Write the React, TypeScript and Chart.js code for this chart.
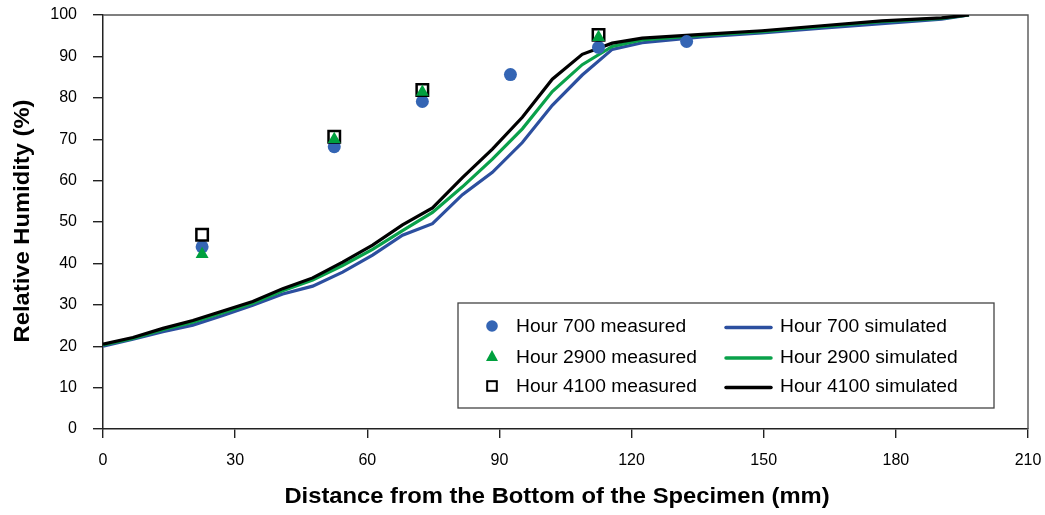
import { useEffect, useRef } from 'react';
import { Chart, registerables } from 'chart.js';

Chart.register(...registerables);

// Simulated profiles: distance (mm) and relative humidity (%)
const simDistance = [
  0, 6.8, 13.6, 20.4, 27.2, 34, 40.8, 47.6, 54.4, 61.2, 68, 74.8, 81.6, 88.4,
  95.2, 102, 108.8, 115.6, 122.4, 136, 149.6, 163.2, 176.8, 190.4, 196.6,
];
const rh700Simulated = [
  20.0, 21.7, 23.5, 25.1, 27.4, 29.9, 32.6, 34.5, 37.9, 42.0, 46.8, 49.6, 56.6, 62.0,
  69.2, 78.2, 85.5, 91.7, 93.3, 94.7, 95.7, 96.8, 97.9, 99.0, 100,
];
const rh2900Simulated = [
  20.3, 21.9, 24.0, 25.8, 28.1, 30.4, 33.4, 36.0, 39.5, 43.4, 47.9, 52.3, 58.5, 65.2,
  72.5, 81.5, 88.0, 92.4, 94.0, 95.1, 96.0, 97.2, 98.4, 99.2, 100,
];
const rh4100Simulated = [
  20.5, 22.1, 24.3, 26.2, 28.5, 30.8, 33.9, 36.5, 40.3, 44.4, 49.3, 53.4, 60.7, 67.6,
  75.3, 84.5, 90.5, 93.2, 94.4, 95.3, 96.2, 97.4, 98.6, 99.3, 100,
];

// Measured values
const measuredDistance700 = [22.5, 52.5, 72.5, 92.5, 112.5, 132.5];
const rh700Measured = [44.0, 68.2, 79.1, 85.6, 92.2, 93.6];
const measuredDistance2900 = [22.5, 52.5, 72.5, 112.5];
const rh2900Measured = [42.2, 70.0, 81.4, 94.6];
const measuredDistance4100 = [22.5, 52.5, 72.5, 112.5];
const rh4100Measured = [46.9, 70.6, 81.9, 95.2];

const xAxisTitle = 'Distance from the Bottom of the Specimen (mm)';
const yAxisTitle = 'Relative Humidity (%)';

const BLUE_MARK = '#3465B4';
const GREEN_MARK = '#00A03E';
const BLUE_LINE = '#2C4F9F';
const GREEN_LINE = '#0AA14A';
const FONT = '"Liberation Sans", Arial, sans-serif';

const pairs = (xs: number[], ys: number[]) => xs.map((x, i) => ({ x, y: ys[i] }));

// Text drawn with a slight horizontal stretch
function wideText(
  ctx: CanvasRenderingContext2D,
  text: string,
  x: number,
  y: number,
  k: number,
  align: CanvasTextAlign,
  rotate = 0,
) {
  ctx.save();
  ctx.translate(x, y);
  if (rotate) ctx.rotate(rotate);
  ctx.scale(k, 1);
  ctx.textAlign = align;
  ctx.textBaseline = 'middle';
  ctx.fillText(text, 0, 0);
  ctx.restore();
}

// Keep tick labels from pushing the plot area inwards
const noLabelPadding = (scale: any) => {
  scale.paddingTop = 0;
  scale.paddingBottom = 0;
  scale.paddingLeft = 0;
  scale.paddingRight = 0;
};

const framePlugin = {
  id: 'frame',
  beforeDatasetsDraw(chart: any) {
    const { ctx, chartArea } = chart;
    ctx.save();
    ctx.strokeStyle = '#555';
    ctx.lineWidth = 1.4;
    ctx.beginPath();
    ctx.moveTo(chartArea.left, chartArea.top);
    ctx.lineTo(chartArea.right, chartArea.top);
    ctx.lineTo(chartArea.right, chartArea.bottom);
    ctx.stroke();
    ctx.restore();
  },
};

const titlesAndLegendPlugin = {
  id: 'titlesAndLegend',
  afterDraw(chart: any) {
    const { ctx } = chart;
    ctx.save();
    ctx.fillStyle = '#000';
    ctx.font = `bold 21.5px ${FONT}`;
    wideText(ctx, xAxisTitle, 557, 497, 1.105, 'center');
    wideText(ctx, yAxisTitle, 23, 221, 1.105, 'center', -Math.PI / 2);

    // legend box
    ctx.strokeStyle = '#444';
    ctx.lineWidth = 1.3;
    ctx.fillStyle = '#fff';
    ctx.fillRect(458, 303, 536, 105);
    ctx.strokeRect(458, 303, 536, 105);

    const ds = chart.data.datasets;
    const rows = [326, 356.5, 386];
    ctx.font = `17.5px ${FONT}`;
    for (let i = 0; i < 3; i++) {
      const m = ds[i];
      const l = ds[i + 3];
      const y = rows[i];
      const mx = 492;
      ctx.save();
      if (i === 0) {
        ctx.fillStyle = BLUE_MARK;
        ctx.beginPath();
        ctx.arc(mx, y, 5.8, 0, Math.PI * 2);
        ctx.fill();
      } else if (i === 1) {
        ctx.fillStyle = GREEN_MARK;
        ctx.beginPath();
        ctx.moveTo(mx, y - 6.5);
        ctx.lineTo(mx + 6, y + 4.5);
        ctx.lineTo(mx - 6, y + 4.5);
        ctx.closePath();
        ctx.fill();
      } else {
        ctx.strokeStyle = '#000';
        ctx.lineWidth = 2;
        ctx.strokeRect(mx - 4.8, y - 4.8, 9.6, 9.6);
      }
      ctx.restore();
      ctx.fillStyle = '#000';
      wideText(ctx, m.label, 516, y + 1.5, 1.1, 'left');

      ctx.save();
      ctx.strokeStyle = l.borderColor;
      ctx.lineWidth = 3.5;
      ctx.lineCap = 'round';
      ctx.beginPath();
      ctx.moveTo(726, y + 1.5);
      ctx.lineTo(771, y + 1.5);
      ctx.stroke();
      ctx.restore();
      ctx.fillStyle = '#000';
      wideText(ctx, l.label, 780, y + 1.5, 1.1, 'left');
    }
    ctx.restore();
  },
};

export default function App() {
  const canvasRef = useRef<HTMLCanvasElement>(null);

  useEffect(() => {
    if (!canvasRef.current) return;
    const chart = new Chart(canvasRef.current, {
      type: 'scatter',
      data: {
        datasets: [
          {
            label: 'Hour 700 measured',
            data: pairs(measuredDistance700, rh700Measured),
            pointStyle: 'circle',
            pointRadius: 6.5,
            backgroundColor: BLUE_MARK,
            borderColor: BLUE_MARK,
            borderWidth: 0,
            order: 3,
          },
          {
            label: 'Hour 2900 measured',
            data: pairs(measuredDistance2900, rh2900Measured),
            pointStyle: 'triangle',
            pointRadius: 7.5,
            backgroundColor: GREEN_MARK,
            borderColor: GREEN_MARK,
            borderWidth: 0,
            order: 1,
          },
          {
            label: 'Hour 4100 measured',
            data: pairs(measuredDistance4100, rh4100Measured),
            pointStyle: 'rect',
            pointRadius: 8.1,
            backgroundColor: 'rgba(255,255,255,0)',
            borderColor: '#000',
            borderWidth: 2.5,
            order: 2,
          },
          {
            label: 'Hour 700 simulated',
            data: pairs(simDistance, rh700Simulated),
            showLine: true,
            pointRadius: 0,
            borderColor: BLUE_LINE,
            backgroundColor: BLUE_LINE,
            borderWidth: 3.2,
            tension: 0,
            order: 6,
          },
          {
            label: 'Hour 2900 simulated',
            data: pairs(simDistance, rh2900Simulated),
            showLine: true,
            pointRadius: 0,
            borderColor: GREEN_LINE,
            backgroundColor: GREEN_LINE,
            borderWidth: 3.2,
            tension: 0,
            order: 5,
          },
          {
            label: 'Hour 4100 simulated',
            data: pairs(simDistance, rh4100Simulated),
            showLine: true,
            pointRadius: 0,
            borderColor: '#000',
            backgroundColor: '#000',
            borderWidth: 3.2,
            tension: 0,
            order: 4,
          },
        ],
      },
      options: {
        animation: false,
        responsive: true,
        maintainAspectRatio: false,
        layout: { padding: { left: 0, top: 15, right: 17, bottom: 0 } },
        plugins: {
          legend: { display: false },
          tooltip: { enabled: false },
        },
        scales: {
          x: {
            type: 'linear',
            min: 0,
            max: 210,
            afterFit: (scale: any) => {
              scale.height = 86;
              noLabelPadding(scale);
            },
            ticks: {
              stepSize: 30,
              padding: 13,
              color: '#000',
              font: { family: FONT, size: 16 },
            },
            grid: {
              drawOnChartArea: false,
              drawTicks: true,
              tickLength: 9,
              color: '#222',
              lineWidth: 1.4,
            },
            border: { display: true, color: '#222', width: 1.5 },
          },
          y: {
            type: 'linear',
            min: 0,
            max: 100,
            afterFit: (scale: any) => {
              scale.width = 103;
              noLabelPadding(scale);
            },
            ticks: {
              stepSize: 10,
              padding: 16,
              color: '#000',
              font: { family: FONT, size: 16 },
            },
            grid: {
              drawOnChartArea: false,
              drawTicks: true,
              tickLength: 10,
              color: '#222',
              lineWidth: 1.4,
            },
            border: { display: true, color: '#222', width: 1.5 },
          },
        },
      },
      plugins: [framePlugin, titlesAndLegendPlugin],
    });
    return () => chart.destroy();
  }, []);

  return (
    <div style={{ position: 'absolute', left: 0, top: 0, width: 1045, height: 515, background: '#fff' }}>
      <canvas ref={canvasRef} />
    </div>
  );
}
